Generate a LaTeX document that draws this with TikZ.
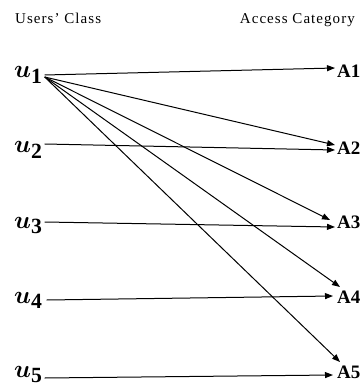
\documentclass[tikz,border=0pt]{standalone}
\usepackage{amsmath,bm}
\usepackage{fontspec}
\setmainfont{Liberation Serif}
\usetikzlibrary{arrows.meta}
\begin{document}
\begin{tikzpicture}[x=1pt,y=-1pt,
  hdr/.style={font=\fontsize{15}{15}\selectfont\addfontfeature{LetterSpace=7}, inner sep=0},
  ulab/.style={font=\fontsize{31}{31}\selectfont, inner sep=0, anchor=base west},
  alab/.style={font=\fontsize{19}{19}\selectfont\bfseries, inner sep=0, anchor=base west},
  conn/.style={line width=1pt, -{Triangle[length=8pt,width=6pt]}}]
\useasboundingbox (0,0) rectangle (363,387);
\node[hdr, anchor=base west] (h1) at (15,24) {Users' Class};
\node[hdr, anchor=base east] (h2) at (355,24) {Access Category};
\node[ulab] (u1) at (14,78) {$\bm{u}_{\mathbf{1}}$};
\node[ulab] (u2) at (14,153) {$\bm{u}_{\mathbf{2}}$};
\node[ulab] (u3) at (14,228) {$\bm{u}_{\mathbf{3}}$};
\node[ulab] (u4) at (14,303) {$\bm{u}_{\mathbf{4}}$};
\node[ulab] (u5) at (14,377) {$\bm{u}_{\mathbf{5}}$};
\node[alab] (A1) at (337,78) {A1};
\node[alab] (A2) at (337,154) {A2};
\node[alab] (A3) at (337,228) {A3};
\node[alab] (A4) at (337,303) {A4};
\node[alab] (A5) at (337,378) {A5};
\draw[conn] ([shift={(2,-3)}]u1.base east) -- ([shift={(-2,-10)}]A1.base west);
\draw[conn] ([shift={(2,-1)}]u1.base east) -- ([shift={(-2,-9)}]A2.base west);
\draw[conn] ([shift={(2,-1)}]u1.base east) -- ([shift={(-7,-8)}]A3.base west);
\draw[conn] ([shift={(2,-1)}]u1.base east) -- ([shift={(3,-16)}]A4.base west);
\draw[conn] ([shift={(2,-1)}]u1.base east) -- ([shift={(3,-16)}]A5.base west);
\draw[conn] ([shift={(2,-9)}]u2.base east) -- ([shift={(-2,-4)}]A2.base west);
\draw[conn] ([shift={(2,-6)}]u3.base east) -- ([shift={(-2,-1)}]A3.base west);
\draw[conn] ([shift={(4,-3)}]u4.base east) -- ([shift={(-4,-7)}]A4.base west);
\draw[conn] ([shift={(2,1)}]u5.base east) -- ([shift={(-4,-3)}]A5.base west);
\end{tikzpicture}
\end{document}
